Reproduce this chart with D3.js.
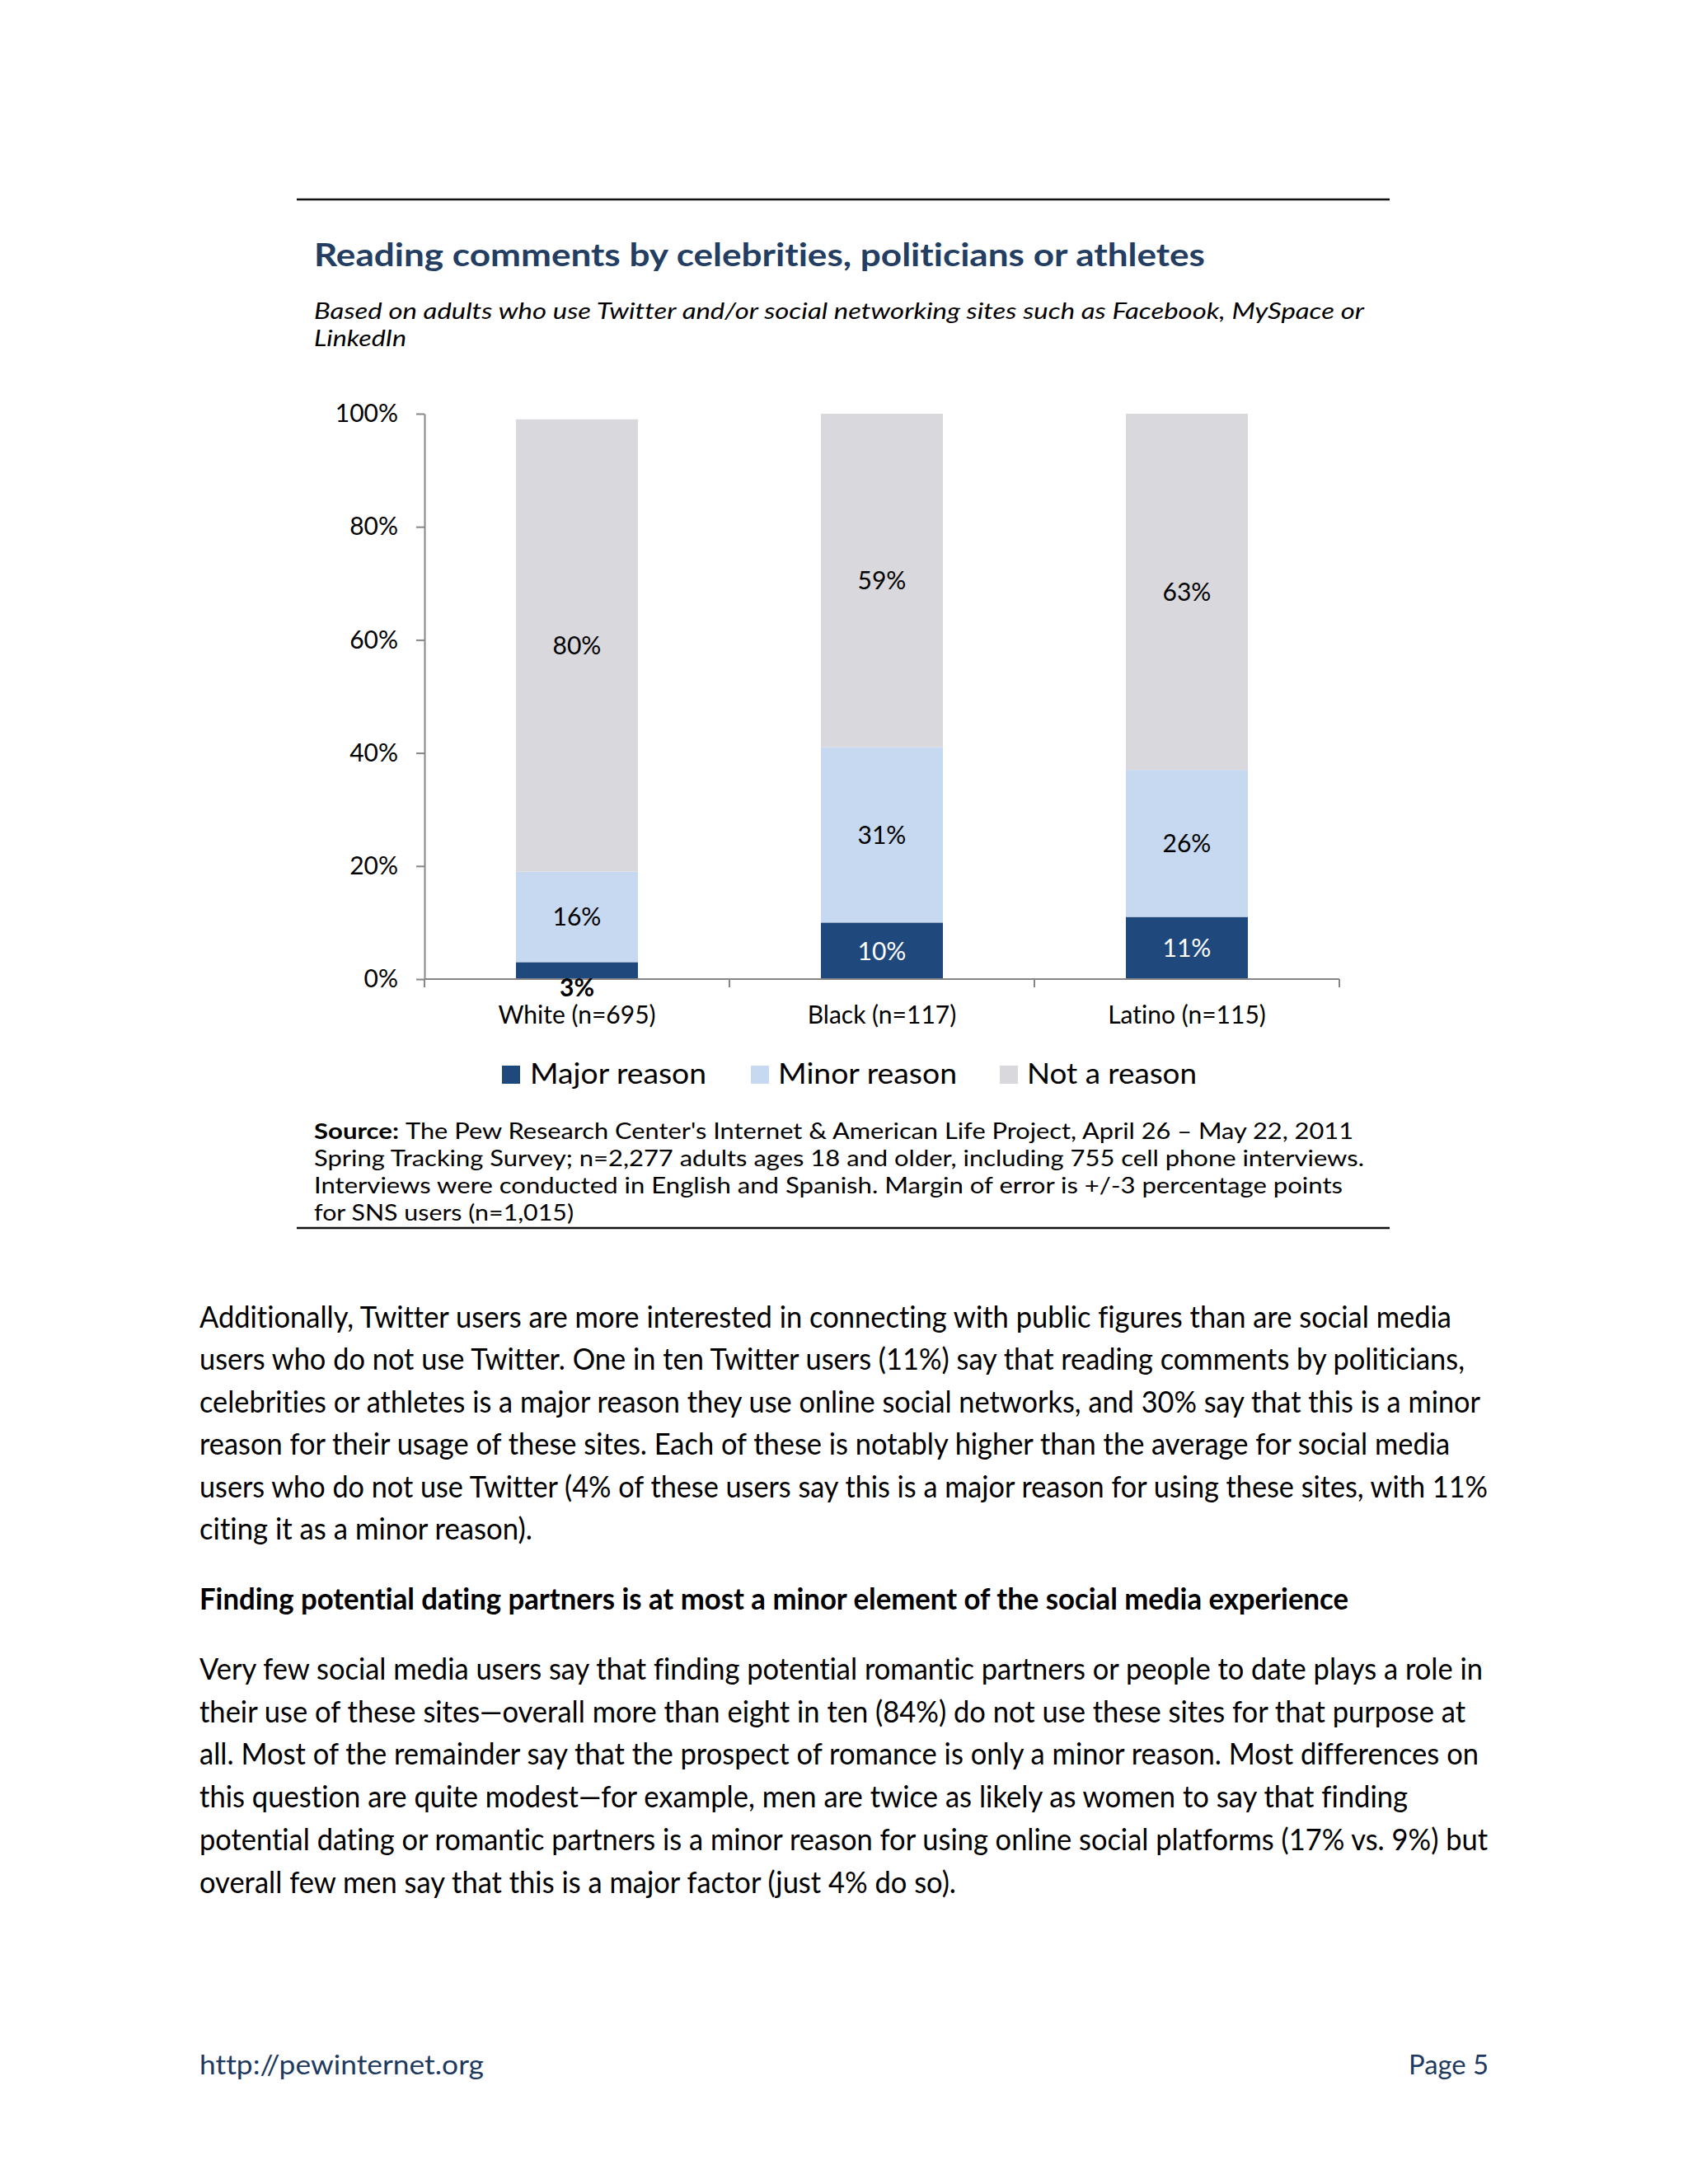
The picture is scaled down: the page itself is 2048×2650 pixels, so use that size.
<!DOCTYPE html>
<html><head><meta charset="utf-8">
<script src="https://cdn.jsdelivr.net/npm/d3@7"></script>
<style>body{margin:0;background:#fff} svg{display:block} text{font-variant-ligatures:none;font-feature-settings:"liga" 0,"clig" 0,"dlig" 0}</style>
</head><body>
<svg id="page" width="2048" height="2650"></svg>
<script>
// ---------- DATA ----------
const categories = ["White (n=695)", "Black (n=117)", "Latino (n=115)"];
const seriesNames = ["Major reason", "Minor reason", "Not a reason"];
const majorReason = [3, 10, 11];
const minorReason = [16, 31, 26];
const notAReason = [80, 59, 63];
const yTickValues = [0, 20, 40, 60, 80, 100];

const titleText = "Reading comments by celebrities, politicians or athletes";
const subtitleLines = [
  "Based on adults who use Twitter and/or social networking sites such as Facebook, MySpace or",
  "LinkedIn"];
const sourceLabel = "Source:";
const sourceLines = [
  "The Pew Research Center's Internet & American Life Project, April 26 \u2013 May 22, 2011",
  "Spring Tracking Survey; n=2,277 adults ages 18 and older, including 755 cell phone interviews.",
  "Interviews were conducted in English and Spanish. Margin of error is +/-3 percentage points",
  "for SNS users (n=1,015)"];
const para1Lines = [
  "Additionally, Twitter users are more interested in connecting with public figures than are social media",
  "users who do not use Twitter. One in ten Twitter users (11%) say that reading comments by politicians,",
  "celebrities or athletes is a major reason they use online social networks, and 30% say that this is a minor",
  "reason for their usage of these sites. Each of these is notably higher than the average for social media",
  "users who do not use Twitter (4% of these users say this is a major reason for using these sites, with 11%",
  "citing it as a minor reason)."];
const heading2 = "Finding potential dating partners is at most a minor element of the social media experience";
const para2Lines = [
  "Very few social media users say that finding potential romantic partners or people to date plays a role in",
  "their use of these sites\u2014overall more than eight in ten (84%) do not use these sites for that purpose at",
  "all. Most of the remainder say that the prospect of romance is only a minor reason. Most differences on",
  "this question are quite modest\u2014for example, men are twice as likely as women to say that finding",
  "potential dating or romantic partners is a minor reason for using online social platforms (17% vs. 9%) but",
  "overall few men say that this is a major factor (just 4% do so)."];
const footerLeft = "http://pewinternet.org";
const footerRight = "Page 5";

// ---------- LAYOUT ----------
const FONT = "Lato, 'Open Sans', sans-serif";
const colors = ["#1F497D", "#C6D9F1", "#D9D8DC"];
const labelColors = ["#ffffff", "#000000", "#000000"];
const plot = {left: 515, right: 1625, top: 502, bottom: 1188};
const subtitleW = [1274, 112];
const sourceW = [1150, 1274, 1248, 315];
const para1W = [1519, 1535, 1554, 1517, 1563, 404];
const para2W = [1557, 1536, 1552, 1466, 1563, 918];
const legendSq = [609, 911, 1213];
const legendTx = [643, 944, 1246];
const legendW = [214, 217, 206];

const svg = d3.select("#page");
svg.append("rect").attr("width", 2048).attr("height", 2650).attr("fill", "#fff");

function txt(s, x, y, size, opts = {}) {
  const t = svg.append("text").attr("x", x).attr("y", y)
    .attr("font-family", FONT).attr("font-size", size)
    .attr("fill", opts.fill || "#000")
    .attr("font-weight", opts.weight || "normal")
    .attr("font-style", opts.style || "normal")
    .text(s);
  if (opts.len) t.attr("textLength", opts.len).attr("lengthAdjust", "spacingAndGlyphs");
  if (opts.anchor) t.attr("text-anchor", opts.anchor);
  return t;
}

// rules
[242, 1490].forEach(yy => svg.append("line").attr("x1", 360).attr("x2", 1686)
  .attr("y1", yy).attr("y2", yy).attr("stroke", "#111").attr("stroke-width", 2.5));

// title + subtitle
txt(titleText, 381, 323, 39, {weight: "bold", fill: "#233E62", len: 1081});
subtitleLines.forEach((s, i) => txt(s, 381, 387 + 33 * i, 27, {style: "italic", len: subtitleW[i]}));

// ---------- CHART ----------
const x = d3.scaleBand().domain(categories).range([plot.left, plot.right]).padding(0);
const y = d3.scaleLinear().domain([0, 100]).range([plot.bottom, plot.top]);
const barW = x.bandwidth() * 0.4;

const rows = categories.map((c, i) => ({
  cat: c,
  [seriesNames[0]]: majorReason[i],
  [seriesNames[1]]: minorReason[i],
  [seriesNames[2]]: notAReason[i]
}));
const stacked = d3.stack().keys(seriesNames)(rows);

const gBars = svg.append("g");
stacked.forEach((layer, si) => {
  gBars.selectAll(null).data(layer).enter().append("rect")
    .attr("x", d => x(d.data.cat) + (x.bandwidth() - barW) / 2)
    .attr("y", d => y(d[1]))
    .attr("width", barW)
    .attr("height", d => y(d[0]) - y(d[1]))
    .attr("fill", colors[si]);
});

// axes
const axisColor = "#868686";
const yAxis = svg.append("g").attr("transform", `translate(${plot.left},0)`)
  .call(d3.axisLeft(y).tickValues(yTickValues).tickFormat(d => d + "%")
    .tickSize(10).tickSizeOuter(0).tickPadding(22));
yAxis.select(".domain").attr("stroke", axisColor).attr("stroke-width", 2);
yAxis.selectAll(".tick line").attr("stroke", axisColor).attr("stroke-width", 2);
yAxis.selectAll(".tick text").attr("font-family", FONT).attr("font-size", 30).attr("fill", "#000");

svg.append("line").attr("x1", plot.left).attr("x2", plot.right)
  .attr("y1", y(0)).attr("y2", y(0)).attr("stroke", axisColor).attr("stroke-width", 2);
const bounds = categories.map(c => x(c)).concat([x.range()[1]]);
svg.selectAll(null).data(bounds).enter().append("line")
  .attr("x1", d => d).attr("x2", d => d)
  .attr("y1", y(0)).attr("y2", y(0) + 10)
  .attr("stroke", axisColor).attr("stroke-width", 2);
svg.selectAll(null).data(categories).enter().append("text")
  .attr("x", d => x(d) + x.bandwidth() / 2).attr("y", 1242)
  .attr("text-anchor", "middle").attr("font-family", FONT).attr("font-size", 30)
  .attr("fill", "#000").text(d => d);

// value labels
stacked.forEach((layer, si) => {
  layer.forEach(d => {
    const v = d[1] - d[0];
    const cx = x(d.data.cat) + x.bandwidth() / 2;
    if (v >= 5) {
      svg.append("text").attr("x", cx).attr("y", (y(d[0]) + y(d[1])) / 2)
        .attr("dy", "0.36em").attr("text-anchor", "middle")
        .attr("font-family", FONT).attr("font-size", 30)
        .attr("fill", labelColors[si]).text(v + "%");
    } else {
      svg.append("text").attr("x", cx).attr("y", y(0) + 21)
        .attr("text-anchor", "middle").attr("font-weight", "bold")
        .attr("font-family", FONT).attr("font-size", 30)
        .attr("fill", "#000").text(v + "%");
    }
  });
});

// legend
seriesNames.forEach((s, i) => {
  svg.append("rect").attr("x", legendSq[i]).attr("y", 1293).attr("width", 22).attr("height", 22)
    .attr("fill", colors[i]);
  txt(s, legendTx[i], 1315, 34, {len: legendW[i]});
});

// source
txt(sourceLabel, 381, 1382, 27, {weight: "bold", len: 103});
sourceLines.forEach((s, i) => txt(s, i === 0 ? 492 : 381, 1382 + 33 * i, 27, {len: sourceW[i]}));

// ---------- BODY TEXT ----------
para1Lines.forEach((s, i) => txt(s, 242, 1611 + 51.4 * i, 36, {len: para1W[i]}));
txt(heading2, 242, 1953, 36, {weight: "bold", len: 1394});
para2Lines.forEach((s, i) => txt(s, 242, 2038 + 51.7 * i, 36, {len: para2W[i]}));

// footer
txt(footerLeft, 242, 2517, 33, {fill: "#1F3A60", len: 345});
txt(footerRight, 1806, 2517, 33, {fill: "#1F3A60", anchor: "end", len: 97});
</script>
</body></html>
